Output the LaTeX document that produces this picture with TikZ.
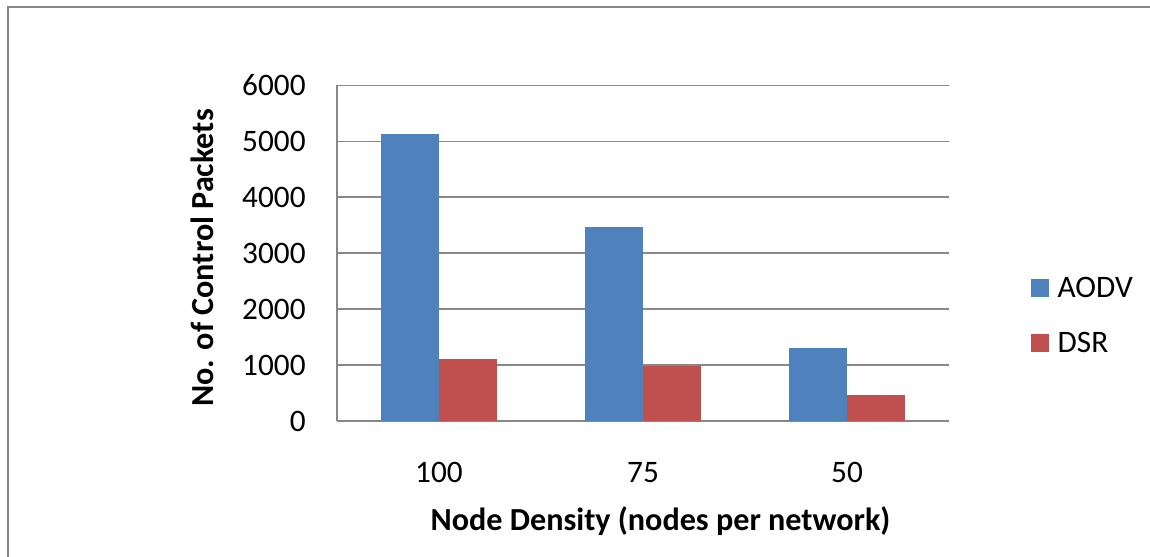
\documentclass[tikz,border=0pt]{standalone}
\usepackage{fontspec}
\setmainfont{Carlito}
\usepackage{xcolor}
\usepackage{tikz}
\usetikzlibrary{positioning}
\definecolor{aodvc}{HTML}{4F81BD}
\definecolor{dsrc}{HTML}{C0504D}
\definecolor{gridc}{HTML}{878787}
\newcommand{\chartfont}{\fontsize{17.8pt}{21pt}\selectfont}
\newcommand{\titlefont}{\fontsize{18.3pt}{22pt}\selectfont\bfseries}
\tikzset{
  gridln/.style={gridc,line width=0.85pt},
  frameln/.style={gridc,line width=1.2pt},
  ticklab/.style={font=\chartfont,inner sep=0pt},
  titlelab/.style={font=\titlefont,inner sep=0pt},
  keybox/.style={minimum size=0.36cm,inner sep=0pt}
}

\begin{document}
\begin{tikzpicture}[x=0.02cm,y=0.02cm]
\useasboundingbox (0,0) rectangle (1150,556);
% chart frame (cut at right and bottom)
\draw[frameln] (8,-5)--(8,549)--(1155,549);
% gridlines and value labels
\foreach \k/\lab in {0/0,1/1000,2/2000,3/3000,4/4000,5/5000,6/6000}{
  \draw[gridln] (337,{135+\k*55.95})--(949,{135+\k*55.95});
  \node[ticklab,anchor=base east] (yl\k) at (306,{125+\k*55.95}) {\lab};
}
\draw[gridln] (337,135)--(337,470.7);
% bars
\foreach \cx/\va/\vd/\lab [count=\i] in {439/5130/1103/100,643/3462/983/75,847/1305/459/50}{
  \fill[aodvc] (\cx-58.3,135) rectangle (\cx,{135+\va*0.05595});
  \fill[dsrc] (\cx,135) rectangle (\cx+58.3,{135+\vd*0.05595});
  \node[ticklab,anchor=base] (cat\i) at (\cx,74) {\lab};
}
% axis titles
\node[titlelab,anchor=base,rotate=90] (ytitle) at (213,298) {No. of Control Packets};
\node[titlelab,anchor=base] (xtitle) at (660.5,26) {Node Density (nodes per network)};
% legend
\node[keybox,fill=aodvc] (keyA) at (1040,268.3) {};
\node[keybox,fill=dsrc] (keyD) at (1040,213.3) {};
\node[ticklab,anchor=base west] (txtA) at ([xshift=0.16cm]keyA.south east) {AODV};
\node[ticklab,anchor=base west] (txtD) at ([xshift=0.16cm]keyD.south east) {DSR};
\end{tikzpicture}
\end{document}
